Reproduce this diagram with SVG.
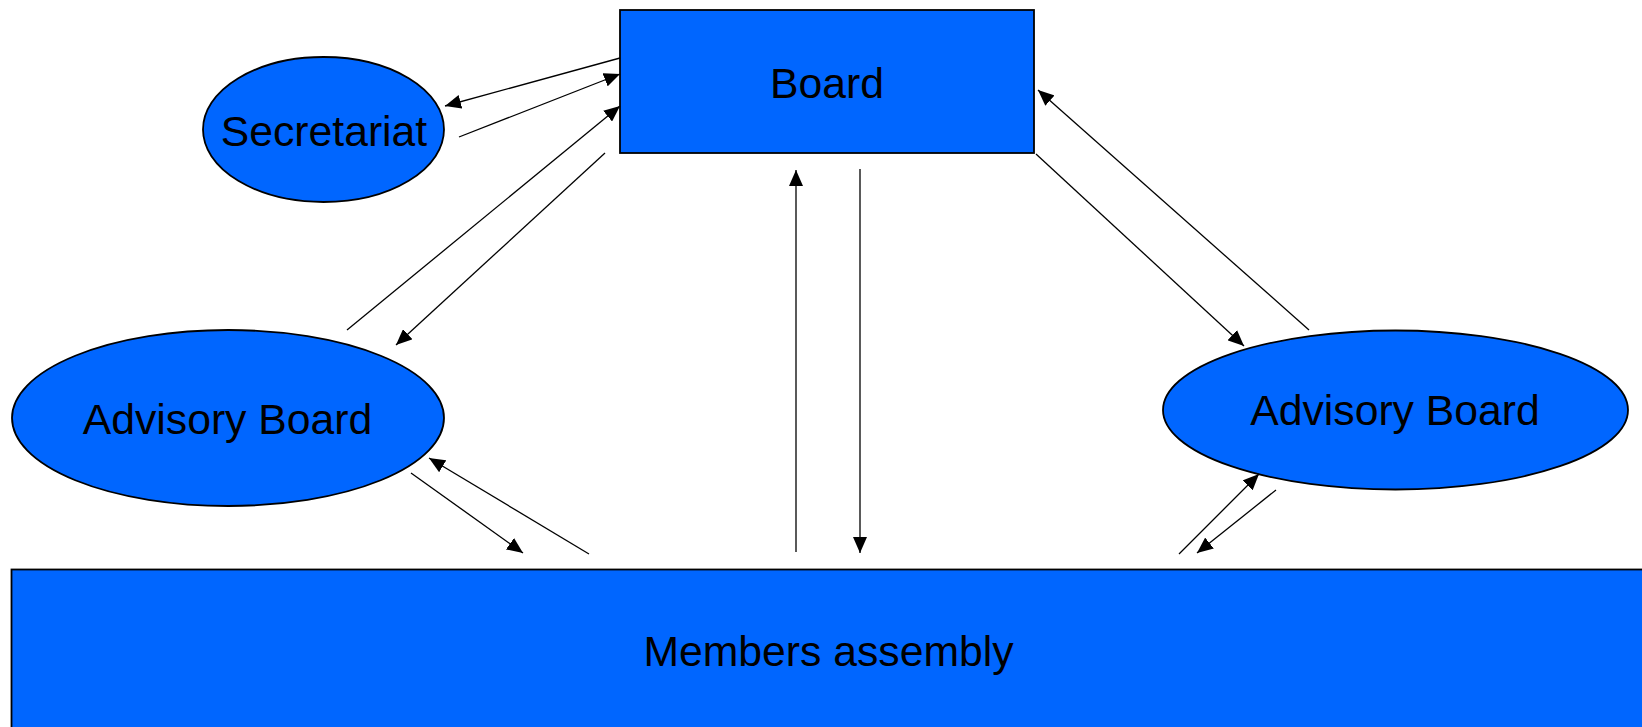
<svg xmlns="http://www.w3.org/2000/svg" width="1642" height="727" viewBox="0 0 1642 727">
<style>
.node{fill:#0066FF;stroke:#000;stroke-width:1.8}
.lbl{font-family:"Liberation Sans",Arial,sans-serif;font-size:42.7px;fill:#000;text-anchor:middle}
.conn line{stroke:#000;stroke-width:1.3;fill:none}
</style>
<defs>
<marker id="ah" markerUnits="userSpaceOnUse" markerWidth="16" markerHeight="14" viewBox="0 0 16 14" refX="16" refY="7" orient="auto">
<path d="M0,0 L16,7 L0,14 z" fill="#000"/>
</marker>
</defs>
<rect width="1642" height="727" fill="#fff"/>
<g id="members">
<rect class="node" x="11.5" y="569.5" width="1660" height="200"/>
<text class="lbl" x="828.5" y="666">Members assembly</text>
</g>
<g id="board">
<rect class="node" x="620" y="10" width="414" height="143"/>
<text class="lbl" x="827" y="98">Board</text>
</g>
<g id="secretariat">
<ellipse class="node" cx="323.5" cy="129.5" rx="120.5" ry="72.5"/>
<text class="lbl" x="324" y="146">Secretariat</text>
</g>
<g id="advisory-left">
<ellipse class="node" cx="228" cy="418" rx="216" ry="88"/>
<text class="lbl" x="227.5" y="434">Advisory Board</text>
</g>
<g id="advisory-right">
<ellipse class="node" cx="1395.5" cy="410" rx="232.5" ry="79.5"/>
<text class="lbl" x="1395" y="425">Advisory Board</text>
</g>
<g id="connectors" class="conn">
<line x1="620" y1="58" x2="445" y2="106" marker-end="url(#ah)"/>
<line x1="459" y1="137" x2="620" y2="74" marker-end="url(#ah)"/>
<line x1="347" y1="330" x2="620" y2="106" marker-end="url(#ah)"/>
<line x1="605" y1="153" x2="396" y2="345" marker-end="url(#ah)"/>
<line x1="411" y1="473" x2="523" y2="553" marker-end="url(#ah)"/>
<line x1="589" y1="554" x2="429" y2="458" marker-end="url(#ah)"/>
<line x1="796" y1="552" x2="796" y2="170" marker-end="url(#ah)"/>
<line x1="860" y1="169" x2="860" y2="553" marker-end="url(#ah)"/>
<line x1="1036" y1="154" x2="1244" y2="346" marker-end="url(#ah)"/>
<line x1="1309" y1="330" x2="1038" y2="90" marker-end="url(#ah)"/>
<line x1="1179" y1="554" x2="1259" y2="474" marker-end="url(#ah)"/>
<line x1="1276" y1="490" x2="1197" y2="553" marker-end="url(#ah)"/>
</g>
</svg>
